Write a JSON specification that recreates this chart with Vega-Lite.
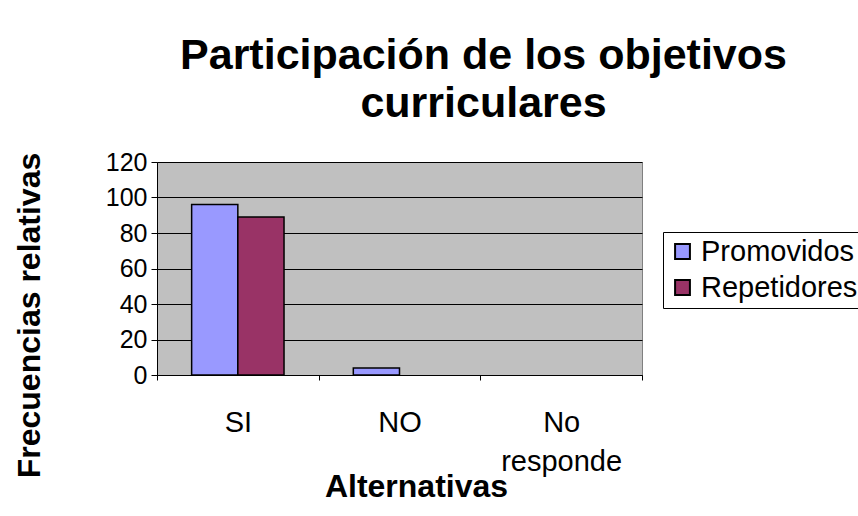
{
  "$schema": "https://vega.github.io/schema/vega-lite/v6.json",
  "width": 485,
  "height": 213,
  "autosize": {"type": "none"},
  "padding": {"left": 157, "top": 162, "right": 216, "bottom": 141},
  "background": "white",
  "title": {
    "text": ["Participación de los objetivos", "curriculares"],
    "font": "Liberation Sans",
    "fontSize": 43,
    "fontWeight": "bold",
    "color": "black",
    "lineHeight": 48,
    "anchor": "middle",
    "frame": "group",
    "dx": 84,
    "offset": 24
  },
  "data": {
    "values": [
      {"alt": "SI", "serie": "Promovidos", "valor": 96},
      {"alt": "SI", "serie": "Repetidores", "valor": 89},
      {"alt": "NO", "serie": "Promovidos", "valor": 4},
      {"alt": "NO", "serie": "Repetidores", "valor": 0},
      {"alt": "No responde", "serie": "Promovidos", "valor": 0},
      {"alt": "No responde", "serie": "Repetidores", "valor": 0}
    ]
  },
  "mark": {"type": "bar", "stroke": "black", "strokeWidth": 1.5},
  "encoding": {
    "x": {
      "field": "alt",
      "type": "nominal",
      "sort": ["SI", "NO", "No responde"],
      "scale": {"paddingInner": 0, "paddingOuter": 0},
      "axis": {
        "title": "Alternativas",
        "titleFont": "Liberation Sans",
        "titleFontSize": 32,
        "titleFontWeight": "bold",
        "titleColor": "black",
        "titleX": 259,
        "titleY": 121,
        "titleBaseline": "alphabetic",
        "titleAlign": "center",
        "labelAngle": 0,
        "labelFont": "Liberation Sans",
        "labelFontSize": 29,
        "labelColor": "black",
        "labelBaseline": "top",
        "labelPadding": 28,
        "labelLineHeight": 39,
        "labelExpr": "datum.value == 'No responde' ? ['No', 'responde'] : datum.value",
        "tickBand": "extent",
        "tickColor": "black",
        "tickSize": 5,
        "domainColor": "black",
        "grid": false
      }
    },
    "xOffset": {
      "field": "serie",
      "type": "nominal",
      "scale": {"paddingInner": 0, "paddingOuter": 0.75}
    },
    "y": {
      "field": "valor",
      "type": "quantitative",
      "scale": {"domain": [0, 120]},
      "axis": {
        "values": [0, 20, 40, 60, 80, 100, 120],
        "title": "Frecuencias relativas",
        "titleFont": "Liberation Sans",
        "titleFontSize": 32,
        "titleFontWeight": "bold",
        "titleColor": "black",
        "titleAngle": -90,
        "titleX": -128,
        "titleY": 153,
        "titleAlign": "center",
        "titleBaseline": "middle",
        "labelFont": "Liberation Sans",
        "labelFontSize": 25,
        "labelColor": "black",
        "labelPadding": 4,
        "tickColor": "black",
        "tickSize": 6,
        "domainColor": "black",
        "gridColor": "black",
        "gridOpacity": 1,
        "gridWidth": 1
      }
    },
    "strokeOpacity": {
      "condition": {"test": "datum.valor == 0", "value": 0},
      "value": 1
    },
    "color": {
      "field": "serie",
      "type": "nominal",
      "scale": {"domain": ["Promovidos", "Repetidores"], "range": ["#9999FF", "#993366"]},
      "legend": {
        "title": null,
        "orient": "none",
        "legendX": 506,
        "legendY": 70,
        "strokeColor": "black",
        "fillColor": "white",
        "padding": 5,
        "symbolType": "square",
        "symbolSize": 220,
        "symbolStrokeColor": "black",
        "symbolStrokeWidth": 2,
        "symbolOpacity": 1,
        "labelFont": "Liberation Sans",
        "labelFontSize": 29,
        "labelColor": "black",
        "labelOffset": 4,
        "rowPadding": 6
      }
    }
  },
  "config": {
    "view": {"fill": "#C0C0C0", "stroke": "#808080"}
  }
}
